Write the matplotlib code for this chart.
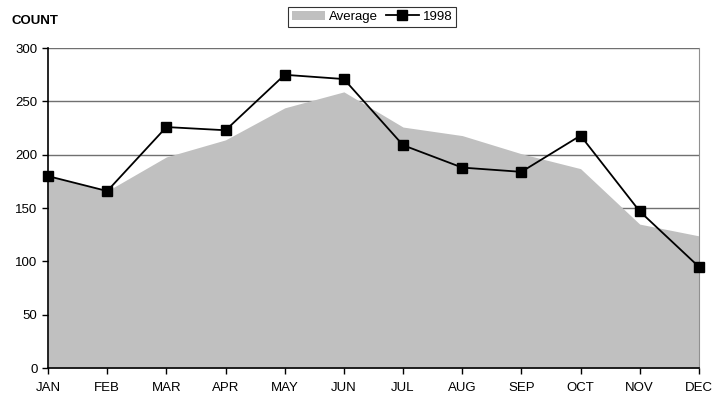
import numpy as np
import matplotlib.pyplot as plt

plt.rcParams['font.family'] = ['Liberation Sans', 'DejaVu Sans']

months = ["JAN", "FEB", "MAR", "APR", "MAY", "JUN",
          "JUL", "AUG", "SEP", "OCT", "NOV", "DEC"]
average = [180, 166, 198, 214, 244, 259, 226, 218, 201, 187, 135, 124]
y1998 = [180, 166, 226, 223, 275, 271, 209, 188, 184, 218, 147, 95]

x = np.arange(len(months))

fig = plt.figure(figsize=(7.28, 4.01), dpi=100)
ax = fig.add_axes([0.066, 0.082, 0.894, 0.798])

for v in range(50, 301, 50):
    ax.axhline(v, color="#707070", lw=1, zorder=0)

ax.fill_between(x, 0, average, color="#c0c0c0", lw=0, zorder=1, label="Average")
ax.plot(x, y1998, color="black", lw=1.3, marker="s", markersize=6.5,
        zorder=3, label="1998", clip_on=False)

ax.set_xlim(0, 11)
ax.set_ylim(0, 300)
ax.set_yticks(range(0, 301, 50))
ax.set_xticks(x)
ax.set_xticklabels(months)
ax.tick_params(axis="both", labelsize=9.5, length=4, width=1, direction="out")
ax.tick_params(axis="x", pad=6)

ax.spines["top"].set_visible(False)
ax.spines["right"].set_color("#909090")
ax.spines["left"].set_linewidth(1.2)
ax.spines["bottom"].set_linewidth(1.2)

fig.text(0.016, 0.948, "COUNT", fontsize=9.5, fontweight="bold", va="center")

leg = fig.legend(loc="center", bbox_to_anchor=(0.511, 0.958), ncol=2,
                 fontsize=9.5, frameon=True, fancybox=False, edgecolor="black",
                 borderpad=0.3, handlelength=2.5, columnspacing=0.6,
                 handletextpad=0.3)
leg.get_frame().set_linewidth(0.8)

fig.savefig("out.png", dpi=100)
